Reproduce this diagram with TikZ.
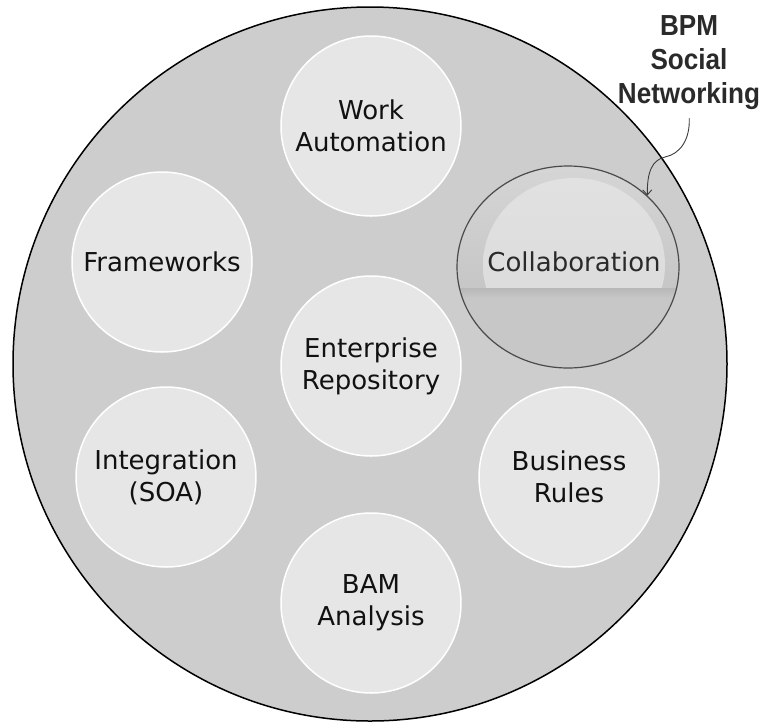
\documentclass[tikz,border=0pt]{standalone}
\usepackage{fontspec}
\setmainfont{DejaVu Sans}
\newfontfamily\bpmfont[FakeStretch=0.9]{Liberation Sans}
\usetikzlibrary{shapes.geometric,arrows.meta}

\definecolor{outerfill}{HTML}{CDCDCD}
\definecolor{bubblefill}{HTML}{E6E6E6}
\definecolor{bubbletext}{HTML}{111111}
\definecolor{glassbase}{HTML}{C7C7C7}
\definecolor{glassrim}{HTML}{D6D6D6}
\definecolor{glassrimlow}{HTML}{C6C6C6}
\definecolor{glasshi}{HTML}{E1E1E1}
\definecolor{glasshilow}{HTML}{DADADA}
\definecolor{glassband}{HTML}{B8B8B8}
\definecolor{glassline}{HTML}{4A4A4A}
\definecolor{labeltext}{HTML}{2A2A2A}
\definecolor{pointer}{HTML}{3C3C3C}

\begin{document}
\begin{tikzpicture}[x=1pt,y=-1pt,
  bubble/.style={circle, minimum size=180pt, inner sep=0pt, fill=bubblefill,
    draw=white, line width=1.5pt, align=center, text=bubbletext,
    font=\fontsize{26}{32}\selectfont},
  bpmlabel/.style={align=center, inner sep=0pt, text=labeltext,
    font=\bpmfont\bfseries\fontsize{29}{34}\selectfont},
  pointerline/.style={draw=pointer, line width=0.9pt,
    -{Straight Barb[length=5pt,width=9pt]}},
]
\useasboundingbox (0,0) rectangle (763,721);

% outer disc
\node[circle, minimum size=714pt, inner sep=0pt, fill=outerfill,
      draw=black, line width=1.5pt] (outer) at (370,364) {};

% plain bubbles
\node[bubble] (work)  at (371,126) {Work\\Automation};
\node[bubble] (frame) at (162,262) {Frameworks};
\node[bubble] (repo)  at (371,366) {Enterprise\\Repository};
\node[bubble] (integ) at (166,477) {Integration\\(SOA)};
\node[bubble] (rules) at (569,477) {Business\\Rules};
\node[bubble] (bam)   at (371,603) {BAM\\Analysis};

% glass bubble for Collaboration
\begin{scope}
  \clip (568,267) ellipse [x radius=111, y radius=101];
  \fill[glassbase] (450,160) rectangle (690,375);
  \shade[top color=glassrim, bottom color=glassrimlow] (450,160) rectangle (690,291);
  \begin{scope}
    \clip (440,150) rectangle (700,290);
    \shade[top color=glasshi, bottom color=glasshilow]
      (574,265) ellipse [x radius=91, y radius=87];
  \end{scope}
  \shade[top color=glassband, bottom color=glassbase] (450,288) rectangle (690,298);
\end{scope}
\node[ellipse, minimum width=222pt, minimum height=202pt, inner sep=0pt,
      draw=glassline, line width=1.2pt] (collab) at (568,267) {};
\node[font=\fontsize{26}{32}\selectfont, text=labeltext, inner sep=0pt]
  (collabtxt) at (574,262) {Collaboration};

% callout
\node[bpmlabel] (bpm) at (689,63) {BPM\\Social\\Networking};
\coordinate (bend) at (665,157);
\draw[pointerline, shorten <=8pt] (bpm.south) .. controls (690,140) and (680,154) .. (bend)
  .. controls (652,160) and (647,172) .. (collab.42);
\end{tikzpicture}
\end{document}
